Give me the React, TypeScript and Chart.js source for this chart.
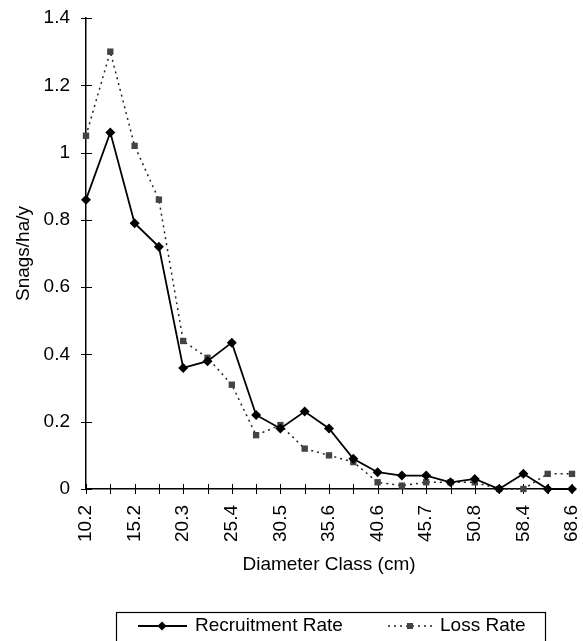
import React, { useEffect, useRef } from "react";
import { Chart, registerables } from "chart.js";

Chart.register(...registerables);

const categories = [
  "10.2", "12.7", "15.2", "17.8", "20.3", "22.9", "25.4", "27.9", "30.5", "33.0", "35.6",
  "38.1", "40.6", "43.2", "45.7", "48.3", "50.8", "53.3", "58.4", "63.5", "68.6",
];
const recruitmentRate = [
  0.86, 1.06, 0.79, 0.72, 0.36, 0.38, 0.435, 0.22, 0.18, 0.23, 0.18,
  0.09, 0.05, 0.04, 0.04, 0.02, 0.03, 0, 0.045, 0, 0,
];
const lossRate = [
  1.05, 1.3, 1.02, 0.86, 0.44, 0.39, 0.31, 0.16, 0.19, 0.12, 0.1,
  0.08, 0.02, 0.01, 0.02, 0.02, 0.02, 0, 0, 0.045, 0.045,
];
const seriesNames = ["Recruitment Rate", "Loss Rate"];
const yTitle = "Snags/ha/y";
const xTitle = "Diameter Class (cm)";

const FONT = "'Liberation Sans', Arial, sans-serif";

const crossTicks = {
  id: "crossTicks",
  beforeDatasetsDraw(chart: any) {
    const ctx = chart.ctx;
    const xs = chart.scales.x;
    const ys = chart.scales.y;
    const area = chart.chartArea;
    ctx.save();
    ctx.strokeStyle = "#000";
    ctx.lineWidth = 1;
    ctx.beginPath();
    ys.ticks.forEach((_t: any, i: number) => {
      const y = Math.round(ys.getPixelForTick(i)) + 0.5;
      ctx.moveTo(area.left - 5, y);
      ctx.lineTo(area.left + 6, y);
    });
    xs.ticks.forEach((_t: any, i: number) => {
      const x = Math.round(xs.getPixelForTick(i)) + 0.5;
      ctx.moveTo(x, area.bottom - 5);
      ctx.lineTo(x, area.bottom + 5);
    });
    ctx.stroke();
    ctx.restore();
  },
};

const boxLegend = {
  id: "boxLegend",
  afterDraw(chart: any) {
    const ctx = chart.ctx;
    ctx.save();
    ctx.strokeStyle = "#000";
    ctx.lineWidth = 1.2;
    ctx.strokeRect(116.5, 612.5, 429, 60);
    const cy = 626;
    ctx.beginPath();
    ctx.lineWidth = 1.8;
    ctx.moveTo(138, cy);
    ctx.lineTo(187, cy);
    ctx.stroke();
    ctx.fillStyle = "#000";
    ctx.beginPath();
    ctx.moveTo(162, cy - 4.5);
    ctx.lineTo(166.5, cy);
    ctx.lineTo(162, cy + 4.5);
    ctx.lineTo(157.5, cy);
    ctx.closePath();
    ctx.fill();
    ctx.beginPath();
    ctx.lineWidth = 1.5;
    ctx.setLineDash([2, 4]);
    ctx.moveTo(388, cy);
    ctx.lineTo(434, cy);
    ctx.strokeStyle = "#222";
    ctx.stroke();
    ctx.setLineDash([]);
    ctx.fillStyle = "#444";
    ctx.fillRect(407, cy - 3, 6, 6);
    ctx.fillStyle = "#000";
    ctx.font = `19px ${FONT}`;
    ctx.textBaseline = "middle";
    ctx.textAlign = "left";
    ctx.fillText(seriesNames[0], 195, cy);
    ctx.fillText(seriesNames[1], 440, cy);
    ctx.restore();
  },
};

export default function App() {
  const ref = useRef<HTMLCanvasElement | null>(null);
  useEffect(() => {
    if (!ref.current) return;
    const chart = new Chart(ref.current, {
      type: "line",
      data: {
        labels: categories,
        datasets: [
          {
            label: seriesNames[0],
            data: recruitmentRate,
            borderColor: "#000",
            backgroundColor: "#000",
            borderWidth: 1.8,
            pointStyle: "rectRot",
            pointRadius: 5,
            pointBorderWidth: 0,
            pointBackgroundColor: "#000",
            tension: 0,
            clip: false as any,
          },
          {
            label: seriesNames[1],
            data: lossRate,
            borderColor: "#222",
            backgroundColor: "#444",
            borderWidth: 1.5,
            borderDash: [2, 4],
            pointStyle: "rect",
            pointRadius: 4.5,
            pointBorderWidth: 0,
            pointBackgroundColor: "#444",
            tension: 0,
            clip: false as any,
          },
        ],
      },
      options: {
        animation: false,
        responsive: false,
        layout: { padding: { top: 18, left: 12.6, right: 11, bottom: 64.6 } },
        plugins: { legend: { display: false }, tooltip: { enabled: false } },
        scales: {
          x: {
            offset: false,
            grid: { display: false, drawTicks: true, tickLength: 6 },
            border: { display: true, color: "#000", width: 1.5 },
            ticks: {
              autoSkip: false,
              maxRotation: 90,
              minRotation: 90,
              padding: 10,
              color: "#000",
              font: { family: FONT, size: 19 },
              callback: (_v: any, i: number) => (i % 2 === 0 ? categories[i] : ""),
            },
            title: {
              display: true,
              text: xTitle,
              color: "#000",
              font: { family: FONT, size: 19 },
              padding: 0,
            },
            afterFit: (s: any) => {
              s.height = 87.4;
              s.paddingLeft = 0;
              s.paddingRight = 0;
            },
          },
          y: {
            min: 0,
            max: 1.4,
            grid: { display: false, drawTicks: true, tickLength: 6 },
            border: { display: true, color: "#000", width: 1.5 },
            ticks: {
              stepSize: 0.2,
              padding: 10,
              color: "#000",
              font: { family: FONT, size: 19 },
              callback: (v: any) => String(Number(Number(v).toFixed(1))),
            },
            title: {
              display: true,
              text: yTitle,
              color: "#000",
              font: { family: FONT, size: 19 },
              padding: 0,
            },
            afterFit: (s: any) => {
              s.width = 73.4;
              s.paddingTop = 0;
              s.paddingBottom = 0;
            },
          },
        },
      },
      plugins: [crossTicks, boxLegend],
    });
    return () => chart.destroy();
  }, []);
  return (
    <div style={{ position: "fixed", left: 0, top: 0, width: 583, height: 641, background: "#fff" }}>
      <canvas ref={ref} width={583} height={641} style={{ display: "block" }} />
    </div>
  );
}
